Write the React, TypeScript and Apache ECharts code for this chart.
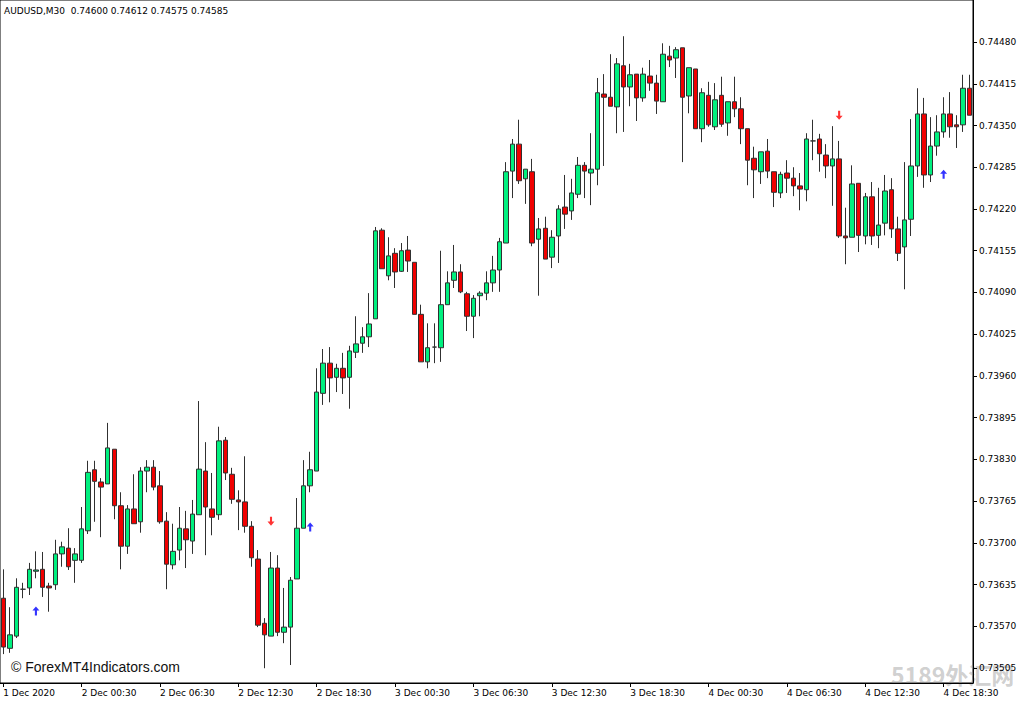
import React, { useEffect, useRef } from "react";
import * as echarts from "echarts";

// OHLC of AUDUSD M30 bars, 1 Dec 2020 18:30 onwards
const opens = [
  0.73614, 0.73536, 0.73555, 0.73628, 0.7363, 0.73656, 0.73659, 0.73633, 0.73635, 0.73683,
  0.73692, 0.73673, 0.73673, 0.73719, 0.73814, 0.73795, 0.73792, 0.73846, 0.73758, 0.73695,
  0.73753, 0.73733, 0.73812, 0.73818, 0.73789, 0.73734, 0.73666, 0.73689, 0.73722, 0.73703,
  0.73744, 0.73812, 0.73753, 0.73744, 0.7386, 0.73807, 0.73767, 0.73764, 0.73726, 0.73675,
  0.73575, 0.73555, 0.73661, 0.73561, 0.73569, 0.73644, 0.73723, 0.73789, 0.73812, 0.73933,
  0.7398, 0.73958, 0.73972, 0.73958, 0.73997, 0.74011, 0.74021, 0.74049, 0.74187, 0.74116,
  0.74151, 0.74123, 0.74156, 0.74137, 0.74056, 0.73982, 0.74005, 0.74004, 0.74071, 0.74109,
  0.74122, 0.74088, 0.74053, 0.74085, 0.74089, 0.74105, 0.74125, 0.74167, 0.74279, 0.74321,
  0.74267, 0.74278, 0.74173, 0.7419, 0.74145, 0.74178, 0.74223, 0.74217, 0.74243, 0.74288,
  0.74276, 0.74282, 0.74399, 0.74394, 0.74379, 0.74443, 0.7441, 0.7443, 0.74393, 0.74427,
  0.74416, 0.74387, 0.74458, 0.74455, 0.74471, 0.74396, 0.74438, 0.74345, 0.74397, 0.74348,
  0.74397, 0.74354, 0.74387, 0.74376, 0.74345, 0.74299, 0.74278, 0.7431, 0.74278, 0.74245,
  0.74276, 0.74268, 0.74256, 0.7425, 0.74326, 0.74329, 0.74304, 0.74287, 0.74298, 0.74178,
  0.74176, 0.7426, 0.74178, 0.74239, 0.74179, 0.74198, 0.7425, 0.74189, 0.74161, 0.74204,
  0.74287, 0.74368, 0.74273, 0.74318, 0.7434, 0.74368, 0.74351, 0.74351, 0.74408,
];
const highs = [
  0.73659, 0.736, 0.73645, 0.73638, 0.73669, 0.73687, 0.73686, 0.73638, 0.73705, 0.73702,
  0.73723, 0.73692, 0.73756, 0.73828, 0.73828, 0.73801, 0.73887, 0.73846, 0.73779, 0.73759,
  0.73807, 0.73818, 0.73829, 0.73829, 0.73812, 0.73748, 0.7373, 0.73756, 0.7375, 0.73767,
  0.73921, 0.73857, 0.73809, 0.73881, 0.73865, 0.73817, 0.73782, 0.73835, 0.73734, 0.73689,
  0.73583, 0.73686, 0.73681, 0.7363, 0.73647, 0.7377, 0.73829, 0.73842, 0.73972, 0.74002,
  0.74005, 0.73979, 0.73996, 0.74007, 0.74053, 0.74036, 0.74089, 0.74192, 0.7419, 0.74176,
  0.74159, 0.74167, 0.74178, 0.74137, 0.74071, 0.74042, 0.74042, 0.74155, 0.74123, 0.74164,
  0.74134, 0.74091, 0.74086, 0.74092, 0.74123, 0.74147, 0.74175, 0.74293, 0.74329, 0.74359,
  0.74282, 0.74298, 0.74206, 0.74208, 0.74187, 0.74226, 0.74273, 0.74267, 0.74301, 0.74293,
  0.74338, 0.74424, 0.7443, 0.74461, 0.74455, 0.74489, 0.74446, 0.7443, 0.7444, 0.74452,
  0.74429, 0.74478, 0.74474, 0.74472, 0.74471, 0.7444, 0.74438, 0.74408, 0.74418, 0.74416,
  0.74426, 0.74387, 0.74426, 0.74394, 0.74345, 0.74317, 0.74309, 0.74329, 0.74278, 0.74278,
  0.74296, 0.74285, 0.74276, 0.74338, 0.74359, 0.74337, 0.74321, 0.74349, 0.74326, 0.74222,
  0.74288, 0.7426, 0.74245, 0.74262, 0.74253, 0.74273, 0.74268, 0.74208, 0.74293, 0.7436,
  0.74408, 0.74393, 0.74363, 0.74366, 0.74394, 0.74402, 0.74366, 0.74429, 0.74429,
];
const lows = [
  0.73527, 0.73529, 0.73552, 0.73614, 0.73619, 0.73645, 0.73616, 0.73593, 0.73627, 0.73663,
  0.73658, 0.73638, 0.73669, 0.73714, 0.73733, 0.73709, 0.73792, 0.73737, 0.73659, 0.73683,
  0.7373, 0.73716, 0.73779, 0.73782, 0.7373, 0.73628, 0.73659, 0.73673, 0.73661, 0.73683,
  0.73744, 0.73681, 0.73712, 0.73736, 0.73798, 0.73761, 0.7372, 0.73716, 0.73663, 0.73569,
  0.73505, 0.73555, 0.73555, 0.73544, 0.7351, 0.73644, 0.73723, 0.73779, 0.73812, 0.73915,
  0.73919, 0.73935, 0.73932, 0.73909, 0.73988, 0.73996, 0.74005, 0.74049, 0.74127, 0.74109,
  0.74097, 0.74122, 0.74122, 0.74056, 0.73982, 0.73972, 0.7398, 0.73982, 0.74071, 0.74097,
  0.74089, 0.7403, 0.74019, 0.74053, 0.74078, 0.74091, 0.74091, 0.74167, 0.74237, 0.74259,
  0.74228, 0.74162, 0.74085, 0.74142, 0.74128, 0.74136, 0.74189, 0.74203, 0.74237, 0.74237,
  0.74226, 0.74257, 0.74287, 0.7438, 0.74338, 0.7434, 0.7438, 0.74357, 0.74387, 0.74404,
  0.74368, 0.74387, 0.74441, 0.74424, 0.74293, 0.74369, 0.74345, 0.74324, 0.74348, 0.74343,
  0.74348, 0.74334, 0.74363, 0.74321, 0.74257, 0.74237, 0.74259, 0.74268, 0.74223, 0.74237,
  0.74245, 0.7424, 0.74218, 0.74232, 0.74296, 0.74278, 0.74268, 0.74225, 0.74175, 0.74134,
  0.74176, 0.74153, 0.74165, 0.74164, 0.74159, 0.74179, 0.74175, 0.74139, 0.74095, 0.74178,
  0.7427, 0.74253, 0.74262, 0.74303, 0.74331, 0.74331, 0.74315, 0.7434, 0.74366,
];
const closes = [
  0.73538, 0.73557, 0.73631, 0.73628, 0.73659, 0.73658, 0.73631, 0.7363, 0.73683, 0.73694,
  0.73663, 0.73683, 0.73722, 0.7381, 0.73796, 0.73787, 0.73848, 0.73758, 0.73695, 0.73753,
  0.7373, 0.73812, 0.73818, 0.73787, 0.73733, 0.73667, 0.73687, 0.73723, 0.73705, 0.73745,
  0.73815, 0.73756, 0.7374, 0.73859, 0.73809, 0.73768, 0.73764, 0.73726, 0.73677, 0.73572,
  0.73557, 0.73661, 0.73561, 0.73569, 0.73642, 0.73723, 0.73789, 0.73814, 0.73935, 0.7398,
  0.73957, 0.73972, 0.73957, 0.73999, 0.7401, 0.74021, 0.74041, 0.74186, 0.74127, 0.74147,
  0.74122, 0.74155, 0.74139, 0.74056, 0.73982, 0.74004, 0.74005, 0.74071, 0.74105, 0.74122,
  0.74091, 0.74053, 0.74081, 0.74089, 0.74105, 0.74125, 0.74169, 0.74278, 0.74321, 0.74264,
  0.74282, 0.74167, 0.74189, 0.74142, 0.74176, 0.7422, 0.74212, 0.74245, 0.74288, 0.74279,
  0.74282, 0.74401, 0.74394, 0.7438, 0.74446, 0.7441, 0.74429, 0.74393, 0.7443, 0.74416,
  0.74388, 0.74461, 0.74452, 0.74468, 0.74394, 0.7444, 0.74345, 0.74401, 0.74351, 0.7439,
  0.74352, 0.74387, 0.74376, 0.74345, 0.74296, 0.74281, 0.74309, 0.74279, 0.74246, 0.74274,
  0.74268, 0.74256, 0.74251, 0.74329, 0.74326, 0.74306, 0.74287, 0.74298, 0.74178, 0.74175,
  0.74259, 0.74179, 0.74239, 0.74178, 0.74195, 0.74248, 0.74189, 0.74151, 0.74203, 0.74287,
  0.74368, 0.74273, 0.74318, 0.7434, 0.74368, 0.74348, 0.74348, 0.74408, 0.74366,
];

// signal arrows (bar index, price)
const upArrowBars = [5, 47, 144];
const upArrowPrices = [0.73594, 0.73725, 0.74274];
const downArrowBars = [41, 128];
const downArrowPrices = [0.73734, 0.74366];

// price axis labels
const priceTicks = [
  0.7448, 0.74415, 0.7435, 0.74285, 0.7422, 0.74155, 0.7409, 0.74025, 0.7396, 0.73895,
  0.7383, 0.73765, 0.737, 0.73635, 0.7357, 0.73505,
];

const headerText = "AUDUSD,M30  0.74600 0.74612 0.74575 0.74585";
const startDay = 1;
const startMinutes = 18 * 60 + 30;
const barMinutes = 30;

function buildCategories(n: number): string[] {
  const out: string[] = [];
  for (let i = 0; i < n; i++) {
    const total = startMinutes + i * barMinutes;
    const day = startDay + Math.floor(total / 1440);
    const m = total % 1440;
    const hh = String(Math.floor(m / 60)).padStart(2, "0");
    const mm = String(m % 60).padStart(2, "0");
    out.push(i === 0 ? `${day} Dec 2020` : `${day} Dec ${hh}:${mm}`);
  }
  return out;
}

const categories = buildCategories(opens.length);

const upArrow = "path://M4,0 L8,4.5 L5.2,4.5 L5.2,10 L2.8,10 L2.8,4.5 L0,4.5 Z";
const downArrow = "path://M4,10 L8,5.5 L5.2,5.5 L5.2,0 L2.8,0 L2.8,5.5 L0,5.5 Z";

export default function App() {
  const ref = useRef<HTMLDivElement>(null);
  useEffect(() => {
    document.body.style.margin = "0";
    if (!ref.current) return;
    const chart = echarts.init(ref.current, null, { renderer: "svg" });
    const candleData = opens.map((o, i) => [o, closes[i], lows[i], highs[i]]);
    const axisFont = { fontFamily: "DejaVu Sans", fontSize: 9, color: "#000" };
    chart.setOption({
      animation: false,
      backgroundColor: "#ffffff",
      grid: {
        left: 0,
        right: 51,
        top: 0,
        bottom: 21,
        show: true,
        borderColor: "#000",
        borderWidth: 1,
        backgroundColor: "#ffffff",
      },
      xAxis: {
        type: "category",
        data: categories,
        boundaryGap: true,
        axisLine: { show: true, lineStyle: { color: "#000", width: 1 } },
        axisTick: {
          show: true,
          alignWithLabel: true,
          interval: (i: number) => i % 12 === 0,
          length: 4,
          lineStyle: { color: "#000" },
        },
        axisLabel: {
          ...axisFont,
          interval: (i: number) => i % 12 === 0,
          align: "left",
          margin: 5,
        },
        splitLine: { show: false },
      },
      yAxis: {
        type: "value",
        position: "right",
        min: 0.73482,
        max: 0.745454,
        scale: true,
        axisLine: { show: true, lineStyle: { color: "#000", width: 1 } },
        axisTick: {
          show: true,
          length: 4,
          customValues: priceTicks,
          lineStyle: { color: "#000" },
        },
        axisLabel: {
          ...axisFont,
          customValues: priceTicks,
          margin: 6,
          formatter: (v: number) => v.toFixed(5),
        },
        splitLine: { show: false },
      },
      series: [
        {
          type: "candlestick",
          data: candleData,
          barWidth: 5,
          itemStyle: {
            color: "#00F07F",
            color0: "#F00000",
            borderColor: "#303030",
            borderColor0: "#303030",
            borderColorDoji: "#303030",
            borderWidth: 1,
          },
        },
        {
          type: "scatter",
          symbol: upArrow,
          symbolSize: [7, 9],
          itemStyle: { color: "#0000FF" },
          data: upArrowBars.map((b, i) => [b, upArrowPrices[i]]),
        },
        {
          type: "scatter",
          symbol: downArrow,
          symbolSize: [7, 9],
          itemStyle: { color: "#FF0000" },
          data: downArrowBars.map((b, i) => [b, downArrowPrices[i]]),
        },
      ],
      graphic: [
        {
          type: "text",
          left: 4,
          top: 6,
          style: {
            text: headerText,
            fontFamily: "DejaVu Sans",
            fontSize: 9,
            fill: "#000",
          },
        },
        {
          type: "text",
          left: 11,
          top: 660,
          style: {
            text: "© ForexMT4Indicators.com",
            fontFamily: "Liberation Sans",
            fontSize: 14,
            fill: "#111",
          },
        },
        {
          type: "text",
          left: 891,
          top: 662,
          style: {
            text: "5189外汇网",
            fontFamily: "Noto Sans CJK SC",
            fontSize: 23,
            fontWeight: "bold",
            fill: "rgba(150,150,150,0.45)",
          },
        },
      ],
    });
    return () => chart.dispose();
  }, []);
  return (
    <div
      ref={ref}
      style={{ position: "absolute", left: 0, top: 0, width: 1024, height: 704 }}
    />
  );
}
